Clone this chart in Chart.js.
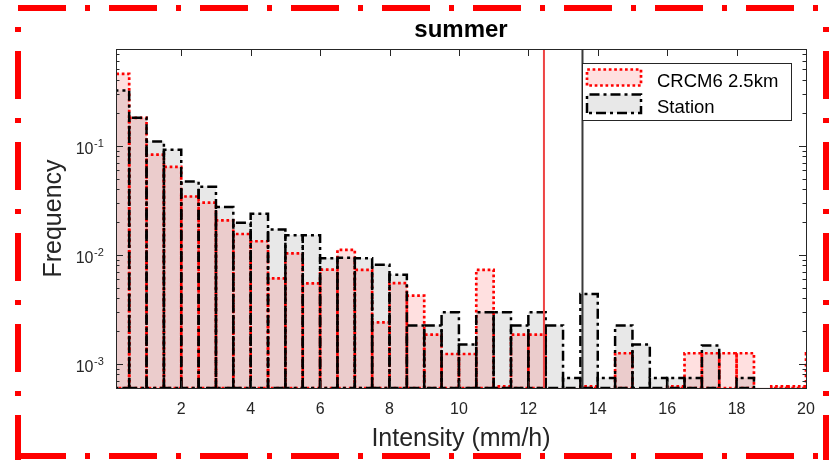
<!DOCTYPE html>
<html>
<head>
<meta charset="utf-8">
<title>summer</title>
<script src="https://cdn.jsdelivr.net/npm/chart.js@4.4.0/dist/chart.umd.min.js"></script>
<style>
  html, body { margin: 0; padding: 0; background: #fff; }
  #chart { display: block; }
</style>
</head>
<body>
<canvas id="chart" width="833" height="460"></canvas>
<script>
// histogram bins, 0.5 mm/h wide (centres)
const binCenters = [0.25, 0.75, 1.25, 1.75, 2.25, 2.75, 3.25, 3.75, 4.25, 4.75,
  5.25, 5.75, 6.25, 6.75, 7.25, 7.75, 8.25, 8.75, 9.25, 9.75,
  10.25, 10.75, 11.25, 11.75, 12.25, 12.75, 13.25, 13.75, 14.25, 14.75,
  15.25, 15.75, 16.25, 16.75, 17.25, 17.75, 18.25, 18.75, 19.25, 19.75, 20.25];

const crcmFreq = [0.455, 0.180, 0.0828, 0.0638, 0.0342, 0.0300, 0.0207, 0.0155, 0.0133, 0.00607,
  0.0103, 0.00547, 0.00731, 0.0111, 0.00728, 0.00240, 0.00549, 0.00421, 0.00185, 0.00123,
  0.00123, 0.00728, 0.00062, 0.00185, 0.00185, 0, 0, 0.00062, 0, 0.00125,
  0, 0, 0.00062, 0.00125, 0.00125, 0.00125, 0.00125, 0, 0.00062, 0.00062, 0.00125];

const stationFreq = [0.320, 0.180, 0.109, 0.092, 0.0469, 0.0421, 0.0274, 0.0197, 0.0238, 0.0170,
  0.0151, 0.0151, 0.00929, 0.0094, 0.00929, 0.00811, 0.00655, 0.00224, 0.00224, 0.00297,
  0.00150, 0.00297, 0.00297, 0.00224, 0.00297, 0.00224, 0.00074, 0.00436, 0.00074, 0.00224,
  0.00150, 0.00074, 0.00074, 0.00074, 0.00147, 0, 0.00074, 0, 0, 0, 0];

// vertical reference lines (mm/h)
const crcmLine = 12.45;
const stationLine = 13.56;

const xTicks = [2, 4, 6, 8, 10, 12, 14, 16, 18, 20];
const yDecades = [1e-3, 1e-2, 1e-1];
const yExps = ['-3', '-2', '-1'];
const yMinor = [2, 3, 4, 5, 6, 7, 8, 9];

const xMin = 0.12, xMax = 20, yMin = 0.00062, yMax = 0.77;

const FONT = '"Liberation Sans", Arial, Helvetica, sans-serif';
const AXIS = '#262626';
const redFill = 'rgba(255, 0, 0, 0.12)';
const greyFill = 'rgba(0, 0, 0, 0.09)';
const redDash = [2.7, 2.7];
const blackDash = [10, 4, 3, 4];

function barPath(ctx, l, t, r, b) {
  ctx.beginPath();
  ctx.moveTo(l, b);
  ctx.lineTo(l, t);
  ctx.lineTo(r, t);
  ctx.lineTo(r, b);
  ctx.closePath();
}

// dotted / dash-dot bar edges (Chart.js bars have no border dash)
const outlinePlugin = {
  id: 'outlines',
  afterDatasetsDraw(chart) {
    const ctx = chart.ctx;
    const area = chart.chartArea;
    const styles = [
      { color: '#ff0000', dash: redDash, width: 2.7 },
      { color: '#000000', dash: blackDash, width: 2.5 }
    ];
    ctx.save();
    ctx.beginPath();
    ctx.rect(area.left, area.top - 2, area.right - area.left, area.bottom - area.top + 2);
    ctx.clip();
    [0, 1].forEach(function (di) {
      const meta = chart.getDatasetMeta(di);
      const vals = chart.data.datasets[di].data;
      ctx.strokeStyle = styles[di].color;
      ctx.lineWidth = styles[di].width;
      ctx.setLineDash(styles[di].dash);
      meta.data.forEach(function (el, i) {
        if (!(vals[i].y > 0)) return;
        const p = el.getProps(['x', 'y', 'width', 'base'], true);
        barPath(ctx, p.x - p.width / 2, p.y, p.x + p.width / 2, p.base);
        ctx.stroke();
      });
    });
    ctx.restore();
  }
};

const decoPlugin = {
  id: 'deco',
  afterDraw(chart) {
    const ctx = chart.ctx;
    const a = chart.chartArea;
    const xs = chart.scales.x;
    const ys = chart.scales.y;
    ctx.save();

    // reference lines
    ctx.setLineDash([]);
    ctx.lineWidth = 2;
    ctx.strokeStyle = '#ee4444';
    let px = xs.getPixelForValue(crcmLine);
    ctx.beginPath(); ctx.moveTo(px, a.top); ctx.lineTo(px, a.bottom); ctx.stroke();
    ctx.strokeStyle = '#3a3a3a';
    px = xs.getPixelForValue(stationLine);
    ctx.beginPath(); ctx.moveTo(px, a.top); ctx.lineTo(px, a.bottom); ctx.stroke();

    // axes box
    ctx.lineWidth = 1;
    ctx.strokeStyle = AXIS;
    ctx.strokeRect(Math.round(a.left) + 0.5, Math.round(a.top) + 0.5,
      Math.round(a.right - a.left), Math.round(a.bottom - a.top));

    // ticks (inside, both sides)
    ctx.beginPath();
    xTicks.forEach(function (v) {
      const x = Math.round(xs.getPixelForValue(v)) + 0.5;
      ctx.moveTo(x, a.bottom); ctx.lineTo(x, a.bottom - 7);
      ctx.moveTo(x, a.top); ctx.lineTo(x, a.top + 7);
    });
    yDecades.forEach(function (d) {
      const y = Math.round(ys.getPixelForValue(d)) + 0.5;
      ctx.moveTo(a.left, y); ctx.lineTo(a.left + 7, y);
      ctx.moveTo(a.right, y); ctx.lineTo(a.right - 7, y);
    });
    [1e-4].concat(yDecades).forEach(function (d) {
      yMinor.forEach(function (m) {
        const v = d * m;
        if (v <= yMin || v >= yMax) return;
        const y = Math.round(ys.getPixelForValue(v)) + 0.5;
        ctx.moveTo(a.left, y); ctx.lineTo(a.left + 3.5, y);
        ctx.moveTo(a.right, y); ctx.lineTo(a.right - 3.5, y);
      });
    });
    ctx.stroke();

    // tick labels
    ctx.fillStyle = AXIS;
    ctx.font = '16px ' + FONT;
    ctx.textAlign = 'center';
    ctx.textBaseline = 'alphabetic';
    xTicks.forEach(function (v) {
      ctx.fillText(String(v), xs.getPixelForValue(v), 414);
    });
    yDecades.forEach(function (d, i) {
      const y = ys.getPixelForValue(d);
      ctx.font = '16px ' + FONT;
      ctx.textAlign = 'right';
      ctx.fillText('10', 93.5, y + 8);
      ctx.font = '11px ' + FONT;
      ctx.textAlign = 'left';
      ctx.fillText(yExps[i], 94, y + 1);
    });

    // axis titles and title
    ctx.font = '25px ' + FONT;
    ctx.textAlign = 'center';
    ctx.fillText('Intensity (mm/h)', (a.left + a.right) / 2, 446);
    ctx.save();
    ctx.translate(61, (a.top + a.bottom) / 2);
    ctx.rotate(-Math.PI / 2);
    ctx.fillText('Frequency', 0, 0);
    ctx.restore();
    ctx.font = 'bold 24px ' + FONT;
    ctx.fillStyle = '#000';
    ctx.fillText('summer', (a.left + a.right) / 2, 37);

    // legend
    ctx.fillStyle = '#fff';
    ctx.fillRect(582.5, 63.5, 209, 57);
    ctx.strokeStyle = AXIS;
    ctx.lineWidth = 1;
    ctx.strokeRect(582.5, 63.5, 209, 57);
    const labels = chart.data.datasets.map(function (d) { return d.label; });
    const sw = [
      { t: 69.5, b: 85.5, fill: redFill, color: '#ff0000', dash: redDash, w: 2.7, base: 87 },
      { t: 94.5, b: 113, fill: greyFill, color: '#000', dash: blackDash, w: 2.5, base: 112.5 }
    ];
    sw.forEach(function (s, i) {
      ctx.fillStyle = s.fill;
      ctx.fillRect(587, s.t, 54, s.b - s.t);
      ctx.setLineDash(s.dash);
      ctx.strokeStyle = s.color;
      ctx.lineWidth = s.w;
      barPath(ctx, 587, s.t, 641, s.b);
      ctx.stroke();
      ctx.setLineDash([]);
      ctx.fillStyle = '#000';
      ctx.font = '18.5px ' + FONT;
      ctx.textAlign = 'left';
      ctx.fillText(labels[i], 657, s.base);
    });

    // red dash-dot frame
    ctx.strokeStyle = '#ff0000';
    ctx.lineWidth = 6;
    ctx.setLineDash([48, 19, 5, 19]);
    ctx.lineDashOffset = 0;
    ctx.beginPath(); ctx.moveTo(18, 8); ctx.lineTo(828, 8); ctx.stroke();
    ctx.beginPath(); ctx.moveTo(18, 456); ctx.lineTo(828, 456); ctx.stroke();
    ctx.lineDashOffset = 48;
    ctx.beginPath(); ctx.moveTo(18, 8); ctx.lineTo(18, 460); ctx.stroke();
    ctx.beginPath(); ctx.moveTo(826, 8); ctx.lineTo(826, 460); ctx.stroke();
    ctx.restore();
  }
};

const ctx = document.getElementById('chart').getContext('2d');
const histChart = new Chart(ctx, {
  type: 'bar',
  data: {
    datasets: [{
      label: 'CRCM6 2.5km',
      data: binCenters.map(function (x, i) { return { x: x, y: crcmFreq[i] }; }),
      backgroundColor: redFill,
      borderWidth: 0,
      grouped: false,
      barPercentage: 1,
      categoryPercentage: 1
    }, {
      label: 'Station',
      data: binCenters.map(function (x, i) { return { x: x, y: stationFreq[i] }; }),
      backgroundColor: greyFill,
      borderWidth: 0,
      grouped: false,
      barPercentage: 1,
      categoryPercentage: 1
    }]
  },
  options: {
    responsive: false,
    animation: false,
    layout: { padding: { left: 116, right: 27, top: 49, bottom: 72 } },
    scales: {
      x: { type: 'linear', min: xMin, max: xMax, offset: false, display: false },
      y: { type: 'logarithmic', min: yMin, max: yMax, beginAtZero: false, display: false }
    },
    plugins: {
      legend: { display: false },
      tooltip: { enabled: false }
    }
  },
  plugins: [outlinePlugin, decoPlugin]
});
</script>
</body>
</html>
